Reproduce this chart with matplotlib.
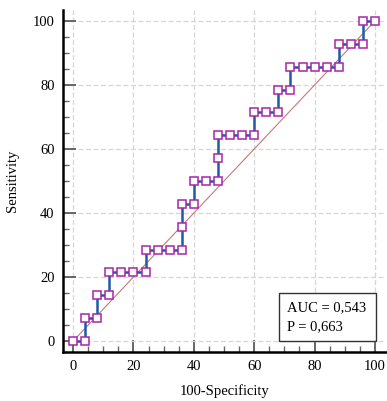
import matplotlib
matplotlib.use("Agg")
import matplotlib.pyplot as plt
from matplotlib.patches import Rectangle
from matplotlib.ticker import MultipleLocator

# ROC points (100-Specificity, Sensitivity)
fpr = [0, 4, 4, 8, 8, 12, 12, 16, 20, 24, 24, 28, 32, 36, 36, 36, 40, 40,
       44, 48, 48, 48, 52, 56, 60, 60, 64, 68, 68, 72, 72, 76, 80, 84, 88,
       88, 92, 96, 96, 100]
sens = [0, 0, 7.14, 7.14, 14.29, 14.29, 21.43, 21.43, 21.43, 21.43, 28.57,
        28.57, 28.57, 28.57, 35.71, 42.86, 42.86, 50, 50, 50, 57.14, 64.29,
        64.29, 64.29, 64.29, 71.43, 71.43, 71.43, 78.57, 78.57, 85.71, 85.71,
        85.71, 85.71, 85.71, 92.86, 92.86, 92.86, 100, 100]
auc_lines = ["AUC = 0,543", "P = 0,663"]

plt.rcParams['font.family'] = ['Liberation Serif', 'DejaVu Serif']

fig = plt.figure(figsize=(3.87, 4.01), dpi=100)
ax = fig.add_axes([0.163, 0.123, 0.834, 0.852])

ax.plot([0, 100], [0, 100], color="#c47a7a", lw=0.8, zorder=2)
ax.plot(fpr, sens, color="#1f5aa6", lw=1.8, marker="s", markersize=5.3,
        markerfacecolor="white", markeredgecolor="#a825a8",
        markeredgewidth=1.1, zorder=3)

ax.set_xlim(-3.3, 103.6)
ax.set_ylim(-3.3, 103.4)
ax.xaxis.set_major_locator(MultipleLocator(20))
ax.yaxis.set_major_locator(MultipleLocator(20))
ax.xaxis.set_minor_locator(MultipleLocator(5))
ax.yaxis.set_minor_locator(MultipleLocator(5))
ax.grid(True, which="major", color="#d6d6d6", ls=(0, (4, 2)), lw=0.9, zorder=0)

for s in ["top", "right"]:
    ax.spines[s].set_visible(False)
for s in ["left", "bottom"]:
    ax.spines[s].set_linewidth(1.8)
ax.tick_params(which="major", direction="in", length=9, width=1.4,
               color="#666666", labelsize=10.5, pad=6)
ax.tick_params(which="minor", direction="in", length=4.5, width=1,
               color="#666666")

ax.set_xlabel("100-Specificity", fontsize=10.5, labelpad=8)
ax.set_ylabel("Sensitivity", fontsize=10.5, labelpad=10)

# AUC box
ax.add_patch(Rectangle((68.2, 0), 32.0, 15.0, fc="white", ec="#333333",
                       lw=1, zorder=4))
ax.text(70.7, 10.4, auc_lines[0], ha="left", va="center", fontsize=10.5,
        zorder=5)
ax.text(70.7, 4.5, auc_lines[1], ha="left", va="center", fontsize=10.5,
        zorder=5)

fig.savefig("out.png", dpi=100)
